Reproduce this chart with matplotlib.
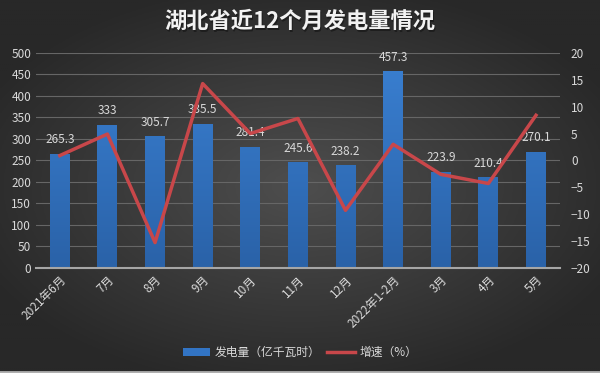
import matplotlib.pyplot as plt
import numpy as np
from matplotlib.colors import LinearSegmentedColormap

plt.rcParams['font.family'] = ['Noto Sans CJK SC', 'DejaVu Sans']

months = ['2021年6月', '7月', '8月', '9月', '10月', '11月', '12月',
          '2022年1-2月', '3月', '4月', '5月']
output = [265.3, 333, 305.7, 335.5, 281.4, 245.6, 238.2, 457.3, 223.9, 210.4, 270.1]
growth = [0.9, 4.9, -15.3, 14.3, 5.0, 7.8, -9.3, 3.0, -2.6, -4.3, 8.4]

fig = plt.figure(figsize=(6, 3.73), dpi=100)

# dark radial background
bg = fig.add_axes([0, 0, 1, 1], zorder=-10)
yy, xx = np.mgrid[-1:1:200j, -1:1:300j]
r = np.clip(np.sqrt((xx * 0.85) ** 2 + (yy * 0.9) ** 2), 0, 1)
shade = (0x4e - (0x4e - 0x28) * r) / 255.0
bg.imshow(np.dstack([shade] * 3), aspect='auto', extent=[0, 1, 0, 1])
bg.axhline(0.004, color='#b0b0b0', lw=2)
bg.set_axis_off()

ax = fig.add_axes([0.06, 0.282, 0.873, 0.576])
ax.set_facecolor('none')
x = np.arange(len(months))
bars = ax.bar(x, output, width=0.42, color='#3274c4', zorder=3,
              label='发电量（亿千瓦时）')
# vertical gradient on each bar
bar_cmap = LinearSegmentedColormap.from_list('b', ['#2a62a8', '#3a80d2'])
grad = np.linspace(0, 1, 256).reshape(-1, 1)
for b in bars:
    bx, by = b.get_x(), b.get_y()
    bw, bh = b.get_width(), b.get_height()
    im = ax.imshow(grad, cmap=bar_cmap, origin='lower', aspect='auto',
                   extent=[bx, bx + bw, 0, 500], zorder=3)
    im.set_clip_path(b)

for xi, v in zip(x, output):
    ax.text(xi, v + 18, f'{v:g}', ha='center', va='bottom',
            color='#d9d9d9', fontsize=8.5, zorder=5)

ax.set_ylim(0, 500)
ax.set_yticks(np.arange(0, 501, 50))
ax.set_xlim(-0.5, len(months) - 0.5)
ax.set_xticks(x)
ax.set_xticklabels(months, rotation=45, ha='right', rotation_mode='anchor')
ax.grid(axis='y', color='#666666', lw=0.8, zorder=0)
for s in ['top', 'right', 'left']:
    ax.spines[s].set_visible(False)
ax.spines['bottom'].set_color('#a6a6a6')
ax.spines['bottom'].set_linewidth(1.5)
ax.spines['bottom'].set_zorder(6)
ax.tick_params(colors='#d9d9d9', labelsize=8.5, length=0)
ax.tick_params(axis='x', pad=4)

ax2 = ax.twinx()
ax2.set_ylim(-20, 20)
ax2.set_yticks(np.arange(-20, 21, 5))
line, = ax2.plot(x, growth, color='#c8474a', lw=2.5, zorder=4, label='增速（%）')
for s in ax2.spines.values():
    s.set_visible(False)
ax2.tick_params(colors='#d9d9d9', labelsize=8.5, length=0, pad=8)

fig.text(0.502, 0.938, '湖北省近12个月发电量情况', ha='center', va='center',
         color='#1a1a1a', fontsize=16, fontweight='bold', alpha=0.8)
fig.text(0.5, 0.942, '湖北省近12个月发电量情况', ha='center', va='center',
         color='#f2f2f2', fontsize=16, fontweight='bold')

fig.legend([bars, line], ['发电量（亿千瓦时）', '增速（%）'], loc='center',
           bbox_to_anchor=(0.5, 0.055), ncol=2, frameon=False,
           labelcolor='#d9d9d9', fontsize=8.5, handlelength=2.3,
           columnspacing=0.6, handletextpad=0.4)

fig.savefig('out.png', dpi=100)
